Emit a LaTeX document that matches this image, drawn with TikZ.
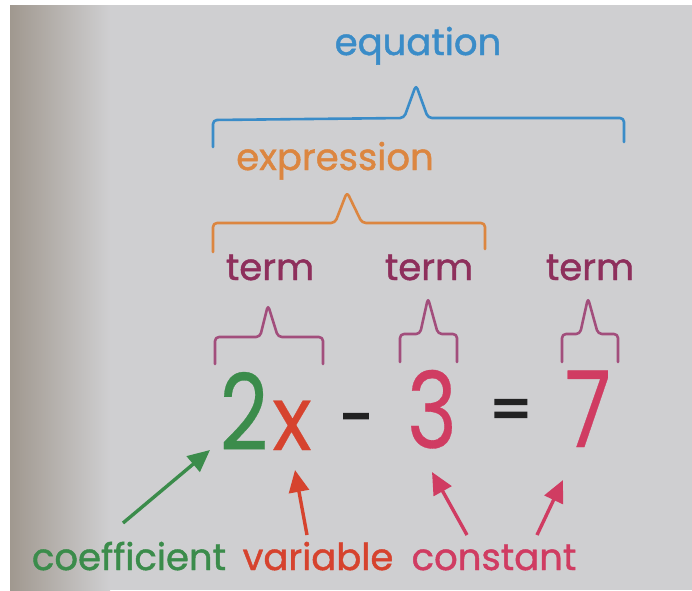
\documentclass[tikz,border=0pt]{standalone}
\usepackage{fontspec}
\setmainfont{Poppins}
\newfontfamily\lblfont{Poppins}[FakeBold=1.2]
\newfontfamily\digfont{Poppins}[FakeBold=0.3]
\newfontfamily\symfont{Poppins}[FakeBold=3]
\usetikzlibrary{arrows.meta,calc}
\definecolor{bgc}{HTML}{CFCFD1}
\definecolor{bgl}{HTML}{A0988F}
\definecolor{cblue}{HTML}{3A8CC8}
\definecolor{corange}{HTML}{DC8640}
\definecolor{cterm}{HTML}{8E2F5C}
\definecolor{cbrace}{HTML}{A24E7C}
\definecolor{cgreen}{HTML}{3B8C4B}
\definecolor{cred}{HTML}{D6432E}
\definecolor{ccrim}{HTML}{D03C62}
\definecolor{cblack}{HTML}{222222}
\newcommand{\narrow}[1]{\scalebox{0.8}[1]{#1}}
\tikzset{
  lbl/.style={inner sep=0pt, anchor=base, font=\lblfont\fontsize{37}{44}\selectfont},
  dig/.style={inner sep=0pt, anchor=base, font=\digfont\fontsize{106}{120}\selectfont},
  sym/.style={inner sep=0pt, anchor=center, font=\symfont\fontsize{60}{70}\selectfont, text=cblack},
  brace/.style={line width=2.6pt, rounded corners=4pt, line cap=round, line join=round},
  pointer/.style={line width=3.4pt, -{Triangle[length=22pt,width=20pt]}},
}
\begin{document}
\begin{tikzpicture}[x=1pt,y=-1pt]
\useasboundingbox (0,0) rectangle (692,590);
\fill[white] (0,0) rectangle (692,590);
\fill[bgc] (10,5) rectangle (692,590);
\shade[left color=bgl, right color=bgc] (10,5) rectangle (110,590);
% labels
\node[lbl, text=cblue] (eq) at (418,55) {equation};
\node[lbl, text=corange] (expr) at (335,170) {expression};
\node[lbl, text=cterm] (t1) at (270,280) {term};
\node[lbl, text=cterm] (t2) at (429,280) {term};
\node[lbl, text=cterm] (t3) at (590,280) {term};
% braces
\draw[brace, cblue] (213,147) -- (213,120) -- (404,118) -- (416,85) -- (428,118) -- (624,118) -- (624,142);
\draw[brace, corange] (213,252) -- (213,223) -- (335,223) -- (347,192) -- (362,223) -- (485,223) -- (485,249);
\draw[brace, cbrace] (215,364) -- (215,337) -- (260,337) -- (268,305) -- (278,337) -- (323,337) -- (323,364);
\draw[brace, cbrace] (400,362) -- (400,334) -- (420,334) -- (428,298) -- (438,334) -- (457,334) -- (457,362);
\draw[brace, cbrace] (562,362) -- (562,334) -- (580,334) -- (588,298) -- (598,334) -- (618,334) -- (618,362);
% equation
\node[dig, text=cgreen] (two) at (244,450) {\narrow{2}};
\node[dig, text=cred] (x) at (292,450) {\scalebox{0.78}[0.85]{x}};
\node[sym] (minus) at (357,426) {-};
\node[dig, text=ccrim] (three) at (432,448) {\narrow{3}};
\node[sym] (equals) at (511,415) {=};
\node[dig, text=ccrim] (seven) at (588,447) {\narrow{7}};
% bottom labels
\node[lbl, text=cgreen] (coef) at (129,570) {coefficient};
\node[lbl, text=cred] (var) at (318,570) {variable};
\node[lbl, text=ccrim] (const) at (494,570) {constant};
% arrows
\draw[pointer, cgreen] ($(coef.base)+(-6,-47)$) -- ($(two.base)+(-34,0)$);
\draw[pointer, cred] ($(var.base)+(-11,-35)$) -- ($(x.base)+(3,20)$);
\draw[pointer, ccrim] ($(const.base)+(-27,-35)$) -- ($(three.base)+(0,24)$);
\draw[pointer, ccrim] ($(const.base)+(43,-35)$) -- ($(seven.base)+(-25,33)$);
\end{tikzpicture}
\end{document}
